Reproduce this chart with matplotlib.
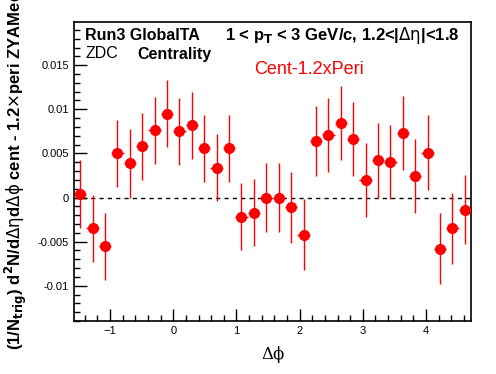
import numpy as np
import matplotlib
matplotlib.use("Agg")
import matplotlib.pyplot as plt
from matplotlib.ticker import MultipleLocator

plt.rcParams["font.family"] = ["Liberation Sans", "DejaVu Sans"]

# ---- data ----
n_bins = 32
dphi_lo, dphi_hi = -np.pi / 2, 3 * np.pi / 2
yield_vals = [0.0004, -0.0035, -0.0055, 0.0050, 0.0039, 0.0058, 0.0076, 0.0095,
              0.0075, 0.0082, 0.0056, 0.0034, 0.0056, -0.0022, -0.0017, 0.0000,
              0.0000, -0.0011, -0.0042, 0.0064, 0.0071, 0.0084, 0.0066, 0.0020,
              0.0042, 0.0040, 0.0073, 0.0024, 0.0051, -0.0058, -0.0035, -0.0014]
yield_errs = [0.0039, 0.0038, 0.0038, 0.0038, 0.0039, 0.0038, 0.0038, 0.0038,
              0.0038, 0.0038, 0.0038, 0.0038, 0.0038, 0.0038, 0.0038, 0.0039,
              0.0039, 0.0040, 0.0040, 0.0040, 0.0042, 0.0042, 0.0042, 0.0042,
              0.0043, 0.0042, 0.0042, 0.0042, 0.0042, 0.0040, 0.0040, 0.0039]

edges = np.linspace(dphi_lo, dphi_hi, n_bins + 1)
centers = 0.5 * (edges[:-1] + edges[1:])
half_w = 0.5 * (edges[1] - edges[0])

fig = plt.figure(figsize=(4.96, 3.74), dpi=100)
ax = fig.add_axes([74 / 496, 1 - 321 / 374, 397 / 496, 299 / 374])

ax.axhline(0, color="black", linestyle=(0, (3, 3)), linewidth=1.0, zorder=1)
ax.errorbar(centers, yield_vals, yerr=yield_errs, xerr=half_w, fmt="o",
            color="red", markersize=7, elinewidth=1.0, capsize=0, zorder=3)

ax.set_xlim(dphi_lo, dphi_hi)
ax.set_ylim(-0.014, 0.0199)
ax.xaxis.set_major_locator(MultipleLocator(1))
ax.xaxis.set_minor_locator(MultipleLocator(0.2))
ax.yaxis.set_minor_locator(MultipleLocator(0.001))
ax.set_yticks([-0.01, -0.005, 0, 0.005, 0.01, 0.015])
ax.set_yticklabels(["-0.01", "-0.005", "0", "0.005", "0.01", "0.015"])
ax.tick_params(which="both", direction="in", labelsize=8, top=False, right=False)
ax.tick_params(which="major", length=9, width=1)
ax.tick_params(which="minor", length=4.5, width=1)
for sp in ax.spines.values():
    sp.set_linewidth(1.2)

ax.set_xlabel("Δϕ", fontsize=12, family=["DejaVu Serif"], labelpad=7)

# y title is cut at the top edge in the original, kept that way
fig.text(16 / 496, 1 - 350 / 374,
         r"(1/N$_{\mathbf{trig}}$) d$^{\mathbf{2}}$N/d$\mathrm{\Delta\eta}$d$\mathrm{\Delta\phi}$ cent - 1.2$\times$peri ZYAMed",
         rotation=90, fontsize=12, fontweight="bold", ha="center", va="bottom")

fig.text(85 / 496, 1 - 36 / 374, "Run3 GlobalTA", fontsize=11.5, fontweight="bold",
         va="center", ha="left")
fig.text(225 / 496, 1 - 36 / 374,
         r"1 < p$_{\mathbf{T}}$ < 3 GeV/c, 1.2<|$\mathrm{\Delta\eta}$|<1.8",
         fontsize=12, fontweight="bold", va="center", ha="left")
fig.text(86 / 496, 1 - 54 / 374, "ZDC", fontsize=11.5, va="center", ha="left")
fig.text(137 / 496, 1 - 54 / 374, "Centrality", fontsize=11.5, fontweight="bold",
         va="center", ha="left")
fig.text(254 / 496, 1 - 70 / 374, "Cent-1.2xPeri", fontsize=13, color="red",
         va="center", ha="left")

fig.savefig("out.png", dpi=100)
